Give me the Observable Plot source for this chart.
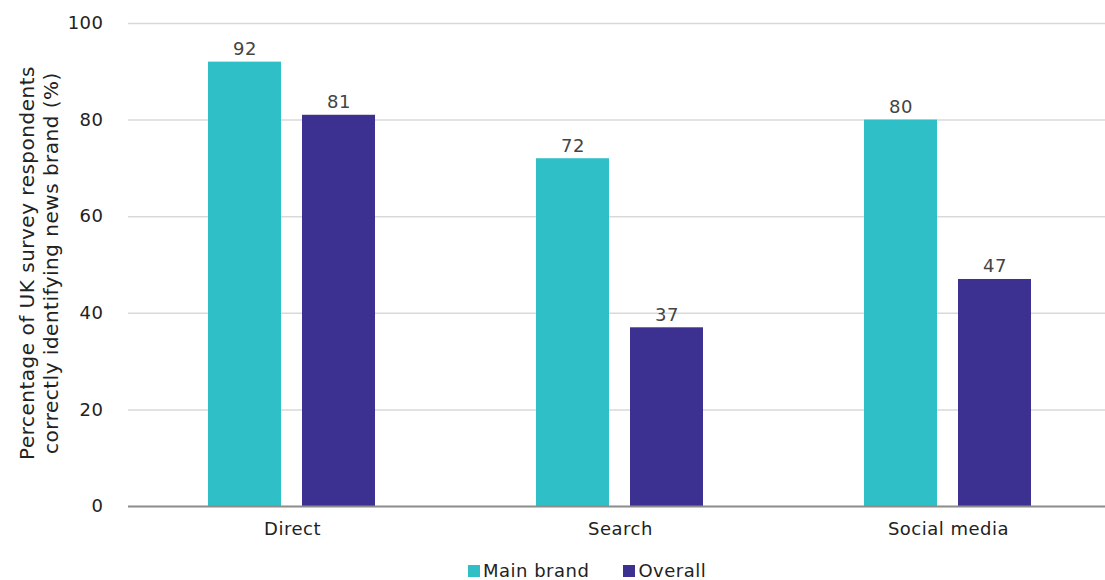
<!DOCTYPE html>
<html>
<head>
<meta charset="utf-8">
<script src="https://cdn.jsdelivr.net/npm/d3@7"></script>
<script src="https://cdn.jsdelivr.net/npm/@observablehq/plot@0.6"></script>
<style>
  body { margin: 0; background: #fff; font-family: "DejaVu Sans", sans-serif; }
  #chart { position: relative; width: 1105px; height: 580px; overflow: hidden; }
  .legend { position: absolute; left: 468px; top: 559px; display: flex; font-size: 18px; color: #222; height: 24px; line-height: 24px; align-items: center; letter-spacing: 0.5px; }
  .legend .item { display: flex; align-items: center; }
  .legend .sw { width: 12px; height: 12px; margin-right: 3px; }
</style>
</head>
<body>
<div id="chart"></div>
<script>
const categories = ["Direct", "Search", "Social media"];
const seriesNames = ["Main brand", "Overall"];
const mainBrand = [92, 72, 80];
const overall = [81, 37, 47];
const yTicks = [0, 20, 40, 60, 80, 100];
const colors = ["#2EBFC7", "#3C3190"];
const yLabel = ["Percentage of UK survey respondents", "correctly identifying news brand (%)"];

const data = categories.flatMap((c, i) => [
  { category: c, series: seriesNames[0], value: mainBrand[i] },
  { category: c, series: seriesNames[1], value: overall[i] }
]);

const fontFamily = "'DejaVu Sans', sans-serif";

const plot = Plot.plot({
  width: 1105,
  height: 550,
  marginLeft: 128,
  marginRight: -7,
  marginTop: 23,
  marginBottom: 44,
  style: { fontFamily, fontSize: "18px", color: "#222", background: "#fff", letterSpacing: "0.5px" },
  fx: { domain: categories, padding: 0, label: null, axis: "bottom", tickSize: 0, tickPadding: 16 },
  x: { domain: seriesNames, paddingInner: 0.221, paddingOuter: 0.837, axis: null },
  y: { domain: [0, 100], axis: null },
  color: { domain: seriesNames, range: colors },
  marks: [
    Plot.ruleY(yTicks.filter(d => d > 0), { stroke: "#d9d9d9", strokeWidth: 1.5 }),
    Plot.axisY({ ticks: yTicks, tickSize: 0, tickPadding: 25, label: null, fontSize: 18 }),
    Plot.barY(data, { fx: "category", x: "series", y: "value", fill: "series" }),
    Plot.text(data, { fx: "category", x: "series", y: "value", text: d => String(d.value), dy: -13, fontSize: 18, fill: "#444" }),
    Plot.ruleY([0], { stroke: "#8c8c8c", strokeWidth: 2 })
  ]
});

// Y axis title (two lines, rotated)
const svg = d3.select(plot);
const yT = svg.append("text")
  .attr("transform", "translate(0,263) rotate(-90)")
  .attr("text-anchor", "middle")
  .attr("font-size", 20)
  .attr("fill", "#222")
  .attr("letter-spacing", "0.5px")
  .attr("font-family", fontFamily);
yLabel.forEach((line, i) => {
  yT.append("tspan").attr("x", 0).attr("y", 34 + i * 24).text(line);
});

document.getElementById("chart").appendChild(plot);

const legend = document.createElement("div");
legend.className = "legend";
seriesNames.forEach((s, i) => {
  const item = document.createElement("div");
  item.className = "item";
  if (i > 0) item.style.marginLeft = "34px";
  const sw = document.createElement("span");
  sw.className = "sw";
  sw.style.background = colors[i];
  const t = document.createElement("span");
  t.textContent = s;
  item.appendChild(sw);
  item.appendChild(t);
  legend.appendChild(item);
});
document.getElementById("chart").appendChild(legend);
</script>
</body>
</html>
